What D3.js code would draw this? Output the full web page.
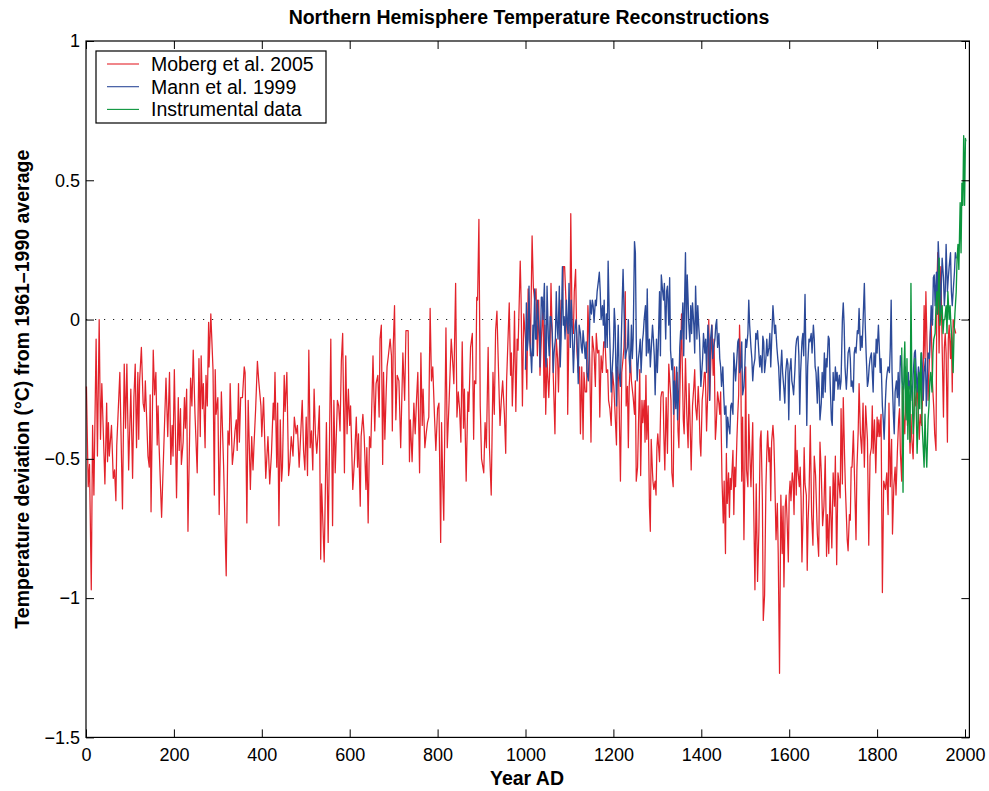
<!DOCTYPE html>
<html>
<head>
<meta charset="utf-8">
<script src="https://cdn.jsdelivr.net/npm/d3@7"></script>
<style>
  body { margin: 0; background: #fff; }
  text { font-family: "Liberation Sans", Arial, Helvetica, sans-serif; fill: #000; }
</style>
</head>
<body>
<svg id="chart" width="989" height="791"></svg>
<script>
// Axis ticks
const xTicks = [0, 200, 400, 600, 800, 1000, 1200, 1400, 1600, 1800, 2000];
const yTicks = [-1.5, -1, -0.5, 0, 0.5, 1];

// Series labels and colours
const seriesNames = ["Moberg et al. 2005", "Mann et al. 1999", "Instrumental data"];
const seriesColors = ["#e3232b", "#2c4a99", "#0b953d"];

// Moberg et al. 2005 reconstruction: [year AD, deviation °C]
const mobergSeries = [
[1,-0.24],[5,-0.60],[8,-0.52],[12,-0.97],[15,-0.38],[18,-0.63],[23,-0.07],[26,-0.49],[30,0.00],[33,-0.43],
[36,-0.23],[43,-0.59],[47,-0.30],[49,-0.51],[51,-0.37],[53,-0.49],[58,-0.38],[62,-0.57],[65,-0.54],[68,-0.65],
[70,-0.45],[77,-0.19],[83,-0.68],[87,-0.16],[90,-0.39],[93,-0.16],[97,-0.54],[102,-0.25],[106,-0.57],[109,-0.28],
[112,-0.16],[115,-0.46],[118,-0.19],[120,-0.43],[122,-0.22],[126,-0.10],[130,-0.30],[133,-0.33],[135,-0.22],[141,-0.49],
[144,-0.53],[146,-0.27],[148,-0.69],[153,-0.11],[156,-0.27],[159,-0.19],[162,-0.45],[164,-0.31],[166,-0.44],[172,-0.71],
[182,-0.21],[186,-0.42],[190,-0.19],[193,-0.52],[196,-0.38],[198,-0.49],[201,-0.18],[206,-0.64],[210,-0.28],[212,-0.47],
[215,-0.32],[217,-0.52],[221,-0.44],[224,-0.28],[226,-0.39],[229,-0.25],[232,-0.76],[238,-0.21],[241,-0.31],[244,-0.11],
[248,-0.34],[253,-0.55],[257,-0.14],[260,-0.42],[262,-0.13],[265,-0.32],[267,-0.23],[271,-0.46],[273,-0.20],[276,-0.31],
[279,-0.01],[280,-0.17],[284,0.02],[289,-0.18],[292,-0.63],[294,-0.18],[296,-0.34],[300,-0.28],[303,-0.70],[308,-0.26],
[313,-0.52],[319,-0.92],[323,-0.40],[326,-0.45],[328,-0.23],[333,-0.52],[336,-0.47],[339,-0.40],[342,-0.36],[344,-0.47],
[347,-0.23],[349,-0.44],[352,-0.28],[356,-0.28],[360,-0.17],[362,-0.19],[366,-0.73],[369,-0.29],[374,-0.61],[377,-0.42],
[380,-0.54],[382,-0.46],[386,-0.32],[390,-0.15],[393,-0.22],[398,-0.31],[400,-0.42],[404,-0.28],[409,-0.57],[414,-0.42],
[418,-0.59],[422,-0.48],[426,-0.30],[428,-0.36],[430,-0.19],[434,-0.53],[436,-0.30],[439,-0.74],[442,-0.36],[445,-0.58],
[447,-0.53],[451,-0.20],[453,-0.33],[457,-0.19],[461,-0.56],[464,-0.51],[467,-0.42],[471,-0.49],[474,-0.35],[478,-0.41],
[481,-0.38],[485,-0.53],[488,-0.43],[492,-0.29],[495,-0.47],[498,-0.54],[501,-0.35],[504,-0.56],[507,-0.11],[510,-0.46],
[513,-0.40],[516,-0.54],[519,-0.25],[522,-0.41],[525,-0.48],[528,-0.41],[531,-0.31],[534,-0.86],[536,-0.59],[542,-0.87],
[547,-0.37],[551,-0.80],[557,-0.07],[561,-0.74],[564,-0.29],[567,-0.55],[572,-0.29],[575,-0.31],[578,-0.40],[581,-0.15],
[584,-0.05],[588,-0.55],[591,-0.13],[594,-0.41],[597,-0.25],[600,-0.38],[602,-0.31],[607,-0.61],[611,-0.50],[615,-0.35],
[618,-0.53],[620,-0.41],[624,-0.67],[626,-0.42],[630,-0.34],[633,-0.42],[637,-0.61],[639,-0.46],[642,-0.73],[645,-0.42],
[648,-0.46],[653,-0.13],[657,-0.40],[660,-0.23],[664,-0.20],[667,-0.35],[669,-0.07],[672,-0.02],[675,-0.52],[677,-0.19],
[680,-0.43],[683,-0.26],[685,-0.17],[688,-0.13],[692,-0.07],[695,-0.13],[697,-0.40],[699,-0.10],[702,0.05],[705,-0.36],
[708,-0.20],[712,-0.22],[716,-0.46],[721,-0.12],[725,-0.29],[728,-0.04],[733,-0.04],[736,-0.51],[738,-0.36],[742,-0.51],
[746,-0.30],[749,-0.41],[752,-0.29],[755,-0.19],[759,-0.55],[762,-0.12],[765,-0.38],[767,-0.25],[771,-0.46],[774,-0.41],
[777,-0.37],[780,-0.35],[783,0.04],[786,-0.22],[789,-0.17],[793,-0.35],[796,-0.47],[800,-0.32],[803,-0.30],[807,-0.80],
[809,-0.37],[812,-0.60],[814,-0.72],[819,-0.03],[822,-0.46],[826,-0.30],[831,-0.07],[835,-0.17],[837,-0.23],[841,0.13],
[844,-0.35],[847,-0.26],[850,-0.32],[853,-0.44],[856,-0.08],[859,-0.39],[861,-0.25],[865,-0.58],[869,-0.26],[871,-0.33],
[875,-0.10],[879,-0.05],[882,-0.43],[884,-0.22],[887,-0.23],[889,0.08],[891,0.07],[894,0.36],[897,-0.31],[900,-0.50],
[905,-0.55],[908,-0.37],[911,-0.46],[915,-0.10],[918,-0.46],[922,-0.63],[926,-0.19],[929,-0.34],[932,-0.04],[935,0.03],
[938,-0.15],[942,-0.38],[945,-0.29],[948,-0.22],[952,-0.34],[955,-0.48],[957,-0.22],[963,0.06],[966,-0.20],[968,-0.12],
[970,-0.31],[973,-0.15],[975,0.03],[978,-0.33],[981,-0.07],[983,-0.11],[988,0.21],[990,0.07],[993,-0.31],[996,0.02],
[1000,-0.07],[1003,-0.25],[1006,0.11],[1009,0.02],[1011,-0.13],[1015,0.30],[1018,0.11],[1021,0.07],[1024,0.11],[1027,-0.13],
[1030,0.07],[1033,-0.20],[1036,-0.07],[1040,0.05],[1042,-0.28],[1044,-0.02],[1046,-0.34],[1049,-0.14],[1053,-0.28],[1055,-0.19],
[1058,0.13],[1061,-0.07],[1063,-0.19],[1067,-0.41],[1070,-0.07],[1073,-0.14],[1075,-0.26],[1078,-0.07],[1081,0.07],[1084,0.05],
[1086,0.19],[1089,0.19],[1092,0.07],[1095,-0.07],[1096,-0.34],[1099,-0.02],[1101,-0.02],[1103,0.38],[1106,-0.02],[1109,-0.05],
[1111,0.10],[1114,0.18],[1117,-0.11],[1120,-0.19],[1123,-0.17],[1125,-0.41],[1128,-0.17],[1131,-0.43],[1133,-0.19],[1136,-0.26],
[1139,-0.26],[1142,0.05],[1146,-0.14],[1149,-0.44],[1152,-0.06],[1156,-0.12],[1159,-0.24],[1161,-0.05],[1164,-0.12],[1167,-0.11],
[1169,-0.35],[1172,-0.13],[1175,-0.19],[1178,-0.08],[1181,-0.08],[1184,-0.19],[1187,-0.18],[1189,-0.29],[1192,-0.32],[1195,-0.38],
[1198,-0.19],[1201,-0.24],[1203,-0.31],[1207,-0.45],[1209,-0.17],[1212,-0.22],[1213,-0.30],[1216,-0.58],[1219,-0.19],[1222,-0.14],
[1224,-0.10],[1227,0.10],[1229,-0.31],[1232,-0.24],[1234,-0.46],[1236,-0.24],[1239,-0.14],[1241,-0.22],[1245,-0.28],[1248,-0.34],
[1250,-0.22],[1252,-0.58],[1255,-0.53],[1257,-0.38],[1260,-0.18],[1262,-0.56],[1265,-0.29],[1267,-0.37],[1270,-0.29],[1272,-0.44],
[1274,-0.20],[1276,-0.43],[1279,-0.31],[1282,-0.67],[1284,-0.76],[1286,-0.43],[1289,-0.55],[1290,-0.58],[1292,-0.61],[1295,-0.58],
[1297,-0.63],[1299,-0.46],[1301,-0.41],[1305,-0.51],[1308,-0.28],[1310,-0.26],[1313,-0.26],[1315,-0.43],[1317,-0.54],[1320,-0.28],
[1323,-0.48],[1326,-0.16],[1329,-0.24],[1331,-0.29],[1333,-0.55],[1336,-0.60],[1339,-0.17],[1342,-0.29],[1345,-0.19],[1347,-0.40],
[1349,-0.46],[1352,-0.20],[1355,0.02],[1357,-0.19],[1359,-0.36],[1361,-0.41],[1364,-0.14],[1367,-0.34],[1370,-0.46],[1372,-0.23],
[1374,-0.34],[1377,-0.54],[1380,-0.31],[1383,-0.24],[1385,-0.18],[1387,-0.31],[1390,-0.36],[1393,-0.24],[1395,-0.31],[1397,-0.44],
[1399,-0.49],[1402,-0.29],[1405,-0.24],[1407,-0.19],[1409,-0.19],[1412,-0.40],[1415,-0.25],[1417,0.00],[1419,-0.29],[1421,-0.19],
[1424,-0.02],[1427,-0.20],[1429,-0.07],[1432,-0.43],[1434,-0.38],[1437,-0.26],[1440,-0.30],[1442,-0.34],[1444,-0.26],[1447,-0.57],
[1450,-0.73],[1452,-0.58],[1455,-0.84],[1457,-0.48],[1459,-0.66],[1462,-0.55],[1464,-0.71],[1466,-0.57],[1468,-0.61],[1472,-0.47],
[1474,-0.70],[1476,-0.53],[1478,-0.60],[1481,-0.43],[1483,-0.34],[1485,-0.27],[1487,-0.02],[1490,-0.20],[1492,-0.58],[1494,-0.35],
[1497,-0.79],[1499,-0.56],[1501,-0.17],[1503,-0.54],[1506,-0.60],[1508,-0.34],[1510,-0.46],[1513,-0.60],[1515,-0.48],[1517,-0.37],
[1519,-0.65],[1522,-0.97],[1525,-0.59],[1528,-0.94],[1531,-0.76],[1534,-0.43],[1536,-0.40],[1539,-0.65],[1541,-1.08],[1544,-0.99],
[1547,-0.60],[1549,-0.48],[1551,-0.40],[1554,-0.51],[1556,-0.46],[1558,-0.65],[1560,-0.44],[1563,-0.38],[1565,-0.43],[1567,-0.55],
[1570,-0.79],[1573,-0.66],[1575,-0.84],[1578,-1.27],[1581,-0.63],[1584,-0.84],[1586,-0.67],[1588,-0.96],[1591,-0.67],[1593,-0.63],
[1595,-0.71],[1598,-0.87],[1600,-0.63],[1602,-0.58],[1604,-0.65],[1607,-0.55],[1609,-0.58],[1611,-0.70],[1614,-0.38],[1616,-0.63],
[1618,-0.47],[1620,-0.54],[1623,-0.60],[1625,-0.53],[1627,-0.64],[1629,-0.87],[1632,-0.67],[1634,-0.46],[1636,-0.59],[1639,-0.63],
[1641,-0.90],[1643,-0.72],[1645,-0.64],[1648,-0.38],[1651,-0.70],[1654,-0.81],[1657,-0.49],[1660,-0.56],[1664,-0.77],[1667,-0.85],
[1670,-0.44],[1673,-0.55],[1676,-0.74],[1679,-0.67],[1682,-0.49],[1685,-0.85],[1687,-0.70],[1690,-0.84],[1693,-0.60],[1697,-0.82],
[1700,-0.55],[1703,-0.67],[1705,-0.49],[1708,-0.88],[1711,-0.55],[1714,-0.60],[1716,-0.64],[1718,-0.32],[1721,-0.59],[1723,-0.28],
[1726,-0.49],[1728,-0.61],[1732,-0.79],[1734,-0.83],[1737,-0.70],[1739,-0.72],[1741,-0.53],[1743,-0.53],[1746,-0.40],[1752,-0.79],
[1754,-0.54],[1757,-0.40],[1759,-0.23],[1762,-0.41],[1765,-0.48],[1768,-0.30],[1771,-0.53],[1774,-0.31],[1778,-0.43],[1781,-0.81],
[1784,-0.49],[1787,-0.46],[1789,-0.31],[1791,-0.48],[1794,-0.36],[1797,-0.55],[1800,-0.35],[1802,-0.42],[1804,-0.36],[1806,-0.42],
[1809,-0.34],[1812,-0.98],[1815,-0.58],[1819,-0.61],[1822,-0.55],[1825,-0.70],[1827,-0.30],[1830,-0.60],[1833,-0.43],[1835,-0.77],
[1838,-0.60],[1841,-0.53],[1843,-0.63],[1846,-0.48],[1849,-0.36],[1851,-0.32],[1853,-0.48],[1856,-0.58],[1858,-0.24],[1860,-0.34],
[1863,-0.41],[1866,-0.22],[1869,-0.38],[1872,-0.31],[1875,-0.48],[1877,-0.34],[1879,-0.43],[1882,-0.50],[1885,-0.26],[1888,-0.31],
[1891,-0.24],[1893,-0.31],[1896,-0.43],[1898,-0.34],[1901,-0.38],[1904,-0.26],[1907,0.05],[1909,-0.14],[1911,0.10],[1914,-0.12],
[1916,-0.29],[1919,-0.14],[1921,-0.05],[1923,0.00],[1926,-0.23],[1929,-0.32],[1931,-0.41],[1934,-0.47],[1936,0.12],[1938,0.24],
[1941,-0.12],[1943,0.05],[1945,0.19],[1948,-0.10],[1951,-0.35],[1953,-0.10],[1955,-0.05],[1957,-0.12],[1960,-0.44],[1962,-0.07],
[1964,-0.02],[1967,-0.14],[1969,-0.05],[1971,-0.26],[1973,0.00],[1976,-0.03],[1979,-0.05]
];

// Mann et al. 1999 reconstruction: [year AD, deviation °C]
const mannSeries = [
[1000,-0.18],[1002,0.06],[1004,-0.11],[1006,-0.07],[1008,0.12],[1010,-0.08],[1012,-0.12],[1014,-0.19],[1017,-0.02],[1018,-0.13],
[1021,0.11],[1023,-0.07],[1025,-0.07],[1027,0.07],[1030,-0.02],[1032,-0.06],[1033,-0.17],[1036,0.08],[1038,0.08],[1040,0.00],
[1043,0.13],[1045,-0.13],[1047,-0.17],[1049,0.12],[1052,-0.07],[1054,-0.13],[1056,0.01],[1058,0.01],[1061,-0.05],[1063,-0.19],
[1065,-0.12],[1068,-0.07],[1070,0.10],[1072,-0.02],[1074,-0.07],[1077,0.12],[1079,-0.17],[1081,-0.07],[1084,0.19],[1086,-0.02],
[1088,0.01],[1090,-0.07],[1093,0.07],[1095,-0.02],[1097,-0.05],[1099,0.13],[1102,-0.10],[1104,0.07],[1106,-0.02],[1109,-0.19],
[1111,-0.10],[1113,-0.02],[1115,0.00],[1118,-0.10],[1120,-0.23],[1122,-0.02],[1125,-0.05],[1127,-0.10],[1129,-0.12],[1131,-0.04],
[1134,-0.10],[1136,-0.14],[1138,-0.08],[1140,-0.19],[1143,-0.22],[1145,-0.11],[1147,0.07],[1150,0.02],[1152,0.07],[1154,0.05],
[1156,-0.01],[1159,0.07],[1161,0.05],[1163,0.10],[1166,0.14],[1168,0.17],[1170,0.10],[1172,0.00],[1175,0.05],[1177,-0.02],
[1179,0.07],[1181,-0.10],[1184,0.02],[1186,-0.10],[1188,0.21],[1191,-0.02],[1193,-0.14],[1195,-0.26],[1197,-0.19],[1200,-0.10],
[1202,0.04],[1204,-0.02],[1207,-0.31],[1209,-0.14],[1211,-0.02],[1213,-0.19],[1216,-0.24],[1218,-0.07],[1220,0.06],[1222,0.18],
[1225,-0.02],[1227,-0.14],[1229,-0.12],[1232,-0.10],[1234,0.00],[1236,-0.14],[1238,-0.19],[1241,-0.02],[1243,-0.14],[1245,-0.07],
[1248,0.28],[1250,0.24],[1252,-0.07],[1254,-0.22],[1257,-0.14],[1259,-0.11],[1261,-0.07],[1263,-0.19],[1266,-0.08],[1268,-0.05],
[1270,0.00],[1273,0.05],[1275,-0.13],[1277,0.11],[1279,-0.12],[1282,-0.07],[1284,-0.17],[1286,-0.11],[1289,-0.02],[1291,-0.07],
[1293,-0.13],[1295,-0.27],[1298,-0.07],[1300,-0.19],[1302,-0.10],[1305,0.10],[1307,-0.13],[1309,0.16],[1311,0.12],[1314,0.07],
[1316,0.13],[1319,-0.07],[1321,0.10],[1323,0.12],[1326,-0.02],[1328,0.15],[1330,-0.11],[1333,-0.18],[1335,-0.14],[1337,-0.34],
[1339,-0.22],[1342,-0.32],[1344,-0.17],[1346,-0.36],[1349,-0.24],[1351,-0.10],[1353,-0.04],[1355,-0.07],[1358,0.06],[1360,-0.13],
[1362,0.07],[1364,0.24],[1366,-0.07],[1368,0.16],[1370,0.07],[1371,0.00],[1374,-0.08],[1376,0.05],[1378,-0.05],[1380,0.06],
[1383,-0.02],[1385,-0.12],[1387,0.12],[1390,-0.07],[1392,0.05],[1394,-0.02],[1396,-0.07],[1399,-0.24],[1401,-0.19],[1403,-0.14],
[1405,-0.05],[1408,-0.12],[1410,-0.07],[1412,-0.19],[1415,-0.02],[1417,-0.07],[1419,-0.29],[1421,-0.07],[1424,-0.02],[1426,-0.14],
[1428,-0.10],[1431,-0.07],[1433,-0.02],[1435,0.00],[1437,-0.10],[1440,-0.05],[1442,-0.14],[1444,-0.17],[1446,-0.24],[1449,-0.17],
[1451,-0.27],[1453,-0.34],[1456,-0.31],[1458,-0.46],[1460,-0.35],[1462,-0.38],[1465,-0.41],[1467,-0.31],[1469,-0.30],[1472,-0.34],
[1474,-0.12],[1476,-0.17],[1478,-0.22],[1481,-0.14],[1483,-0.08],[1485,-0.07],[1487,-0.19],[1490,-0.17],[1492,-0.08],[1494,-0.27],
[1497,-0.24],[1499,-0.17],[1501,-0.07],[1503,-0.10],[1506,-0.05],[1508,0.07],[1510,-0.02],[1513,-0.10],[1515,-0.14],[1517,-0.22],
[1519,-0.17],[1522,-0.14],[1524,-0.05],[1526,-0.07],[1528,-0.04],[1531,-0.12],[1533,-0.17],[1535,-0.13],[1538,-0.19],[1540,-0.06],
[1542,-0.08],[1544,-0.19],[1547,-0.14],[1549,-0.07],[1551,-0.13],[1554,-0.10],[1556,-0.05],[1558,-0.17],[1560,-0.08],[1563,0.05],
[1565,0.00],[1567,-0.05],[1569,-0.02],[1572,-0.10],[1574,-0.14],[1576,-0.17],[1579,-0.29],[1581,-0.17],[1583,-0.11],[1585,-0.19],
[1588,-0.25],[1590,-0.30],[1592,-0.19],[1595,-0.14],[1597,-0.16],[1599,-0.36],[1601,-0.19],[1604,-0.14],[1606,-0.22],[1608,-0.24],
[1610,-0.27],[1613,-0.18],[1615,-0.10],[1617,-0.07],[1620,-0.06],[1622,-0.13],[1624,-0.34],[1626,-0.19],[1629,-0.08],[1631,-0.05],
[1633,-0.13],[1636,0.09],[1638,-0.14],[1640,-0.38],[1642,-0.17],[1645,-0.07],[1647,-0.08],[1650,-0.05],[1652,-0.12],[1655,-0.02],
[1657,-0.07],[1659,-0.17],[1661,-0.19],[1664,-0.30],[1666,-0.17],[1668,-0.24],[1670,-0.36],[1673,-0.30],[1675,-0.19],[1677,-0.28],
[1680,-0.12],[1682,-0.26],[1684,-0.14],[1686,-0.17],[1689,-0.06],[1691,-0.07],[1693,-0.22],[1696,-0.36],[1698,-0.38],[1700,-0.19],
[1702,-0.29],[1705,-0.17],[1707,-0.22],[1709,-0.19],[1711,-0.25],[1714,-0.20],[1716,-0.25],[1718,-0.22],[1721,0.00],[1723,0.06],
[1725,-0.02],[1727,-0.17],[1730,-0.25],[1732,-0.19],[1734,-0.12],[1737,-0.10],[1739,-0.14],[1741,-0.24],[1743,-0.22],[1746,-0.26],
[1748,-0.12],[1750,-0.10],[1752,-0.12],[1755,-0.04],[1757,-0.05],[1759,0.04],[1762,-0.11],[1764,-0.06],[1766,-0.10],[1768,-0.01],
[1771,0.13],[1773,-0.02],[1775,-0.12],[1778,-0.24],[1780,-0.22],[1782,-0.17],[1784,-0.14],[1787,-0.12],[1789,-0.19],[1791,-0.26],
[1793,-0.12],[1796,-0.17],[1798,-0.07],[1800,-0.12],[1803,-0.02],[1805,-0.10],[1807,-0.19],[1809,-0.14],[1812,-0.31],[1814,-0.36],
[1816,-0.43],[1819,-0.29],[1821,-0.22],[1823,-0.19],[1825,-0.17],[1828,-0.19],[1830,-0.10],[1832,0.07],[1834,-0.19],[1837,-0.34],
[1839,-0.41],[1841,-0.26],[1844,-0.22],[1846,-0.28],[1848,-0.19],[1850,-0.31],[1853,-0.13],[1855,-0.14],[1857,-0.22],[1860,-0.25],
[1862,-0.22],[1864,-0.17],[1866,-0.24],[1869,-0.31],[1871,-0.19],[1873,-0.25],[1875,-0.22],[1878,-0.24],[1880,-0.29],[1882,-0.20],
[1885,-0.12],[1887,-0.11],[1889,-0.19],[1891,-0.26],[1894,-0.17],[1896,-0.24],[1898,-0.19],[1901,-0.12],[1903,-0.17],[1905,-0.29],
[1907,-0.19],[1910,-0.14],[1912,-0.31],[1914,-0.22],[1916,-0.12],[1919,-0.14],[1921,-0.05],[1923,0.05],[1926,-0.02],[1928,0.15],
[1930,0.16],[1932,0.05],[1935,0.17],[1937,0.02],[1939,0.28],[1942,0.17],[1944,0.00],[1946,0.12],[1948,0.22],[1951,0.15],
[1953,0.05],[1955,0.10],[1957,0.27],[1960,0.10],[1962,0.15],[1964,0.19],[1967,0.24],[1969,0.10],[1971,0.05],[1973,0.10],
[1976,0.17],[1978,0.24],[1980,0.22]
];

// Instrumental record: [year AD, deviation °C]
const instrumentalSeries = [
[1856,-0.10],[1859,-0.62],[1861,-0.19],[1863,-0.08],[1866,-0.36],[1868,-0.14],[1870,-0.43],[1872,-0.24],[1875,-0.44],[1877,0.13],
[1879,-0.22],[1882,-0.41],[1884,-0.34],[1886,-0.14],[1888,-0.24],[1891,-0.48],[1893,-0.38],[1895,-0.19],[1897,-0.32],[1900,-0.12],
[1902,-0.36],[1904,-0.43],[1907,-0.53],[1909,-0.34],[1911,-0.46],[1913,-0.53],[1916,-0.36],[1918,-0.31],[1920,-0.22],[1922,-0.19],
[1925,-0.26],[1927,-0.12],[1929,-0.07],[1932,-0.05],[1934,0.05],[1936,0.10],[1938,0.02],[1941,0.22],[1943,-0.02],[1945,0.02],
[1948,0.05],[1950,-0.05],[1952,0.00],[1954,0.00],[1957,0.05],[1959,-0.05],[1961,0.10],[1964,0.00],[1966,0.05],[1968,-0.02],
[1970,-0.07],[1973,-0.19],[1975,-0.05],[1977,0.02],[1980,0.10],[1982,0.22],[1984,0.27],[1986,0.18],[1989,0.42],[1991,0.24],
[1993,0.49],[1995,0.41],[1997,0.66],[1999,0.41],[2001,0.65],[2002,0.64]
];

const svg = d3.select("#chart");
const plot = { left: 86, right: 969.4, top: 41, bottom: 737.4 };

const x = d3.scaleLinear().domain([0, 2010]).range([plot.left, plot.right]);
const y = d3.scaleLinear().domain([-1.5, 1]).range([plot.bottom, plot.top]);
const fmt = d3.format("~g");
const tickFont = 18;
const legendFont = 19.5;
const titleFont = 19.5;

// Zero reference line
svg.append("line")
  .attr("x1", x(0)).attr("x2", x(2010))
  .attr("y1", y(0)).attr("y2", y(0))
  .attr("stroke", "#222").attr("stroke-width", 1.1)
  .attr("stroke-dasharray", "1.2,7.8");

// Series lines
const line = d3.line().x(d => x(d[0])).y(d => y(d[1]));
const allSeries = [mobergSeries, mannSeries, instrumentalSeries];
const widths = [1.25, 1.35, 1.35];
allSeries.forEach((s, i) => {
  svg.append("path")
    .datum(s)
    .attr("d", line)
    .attr("fill", "none")
    .attr("stroke", seriesColors[i])
    .attr("stroke-width", widths[i])
    .attr("stroke-linejoin", "round");
});

// Axes with inward ticks on all four sides
function styleAxis(g) {
  g.select(".domain").remove();
  g.selectAll(".tick line").attr("stroke", "#000").attr("stroke-width", 1);
  g.selectAll(".tick text")
    .style("font-size", tickFont + "px")
    .style("font-family", "'Liberation Sans', Arial, sans-serif")
    .attr("fill", "#000");
}

svg.append("g")
  .attr("transform", `translate(0,${plot.bottom})`)
  .call(d3.axisBottom(x).tickValues(xTicks).tickFormat(fmt).tickSizeInner(-8).tickSizeOuter(0).tickPadding(11))
  .call(styleAxis);

svg.append("g")
  .attr("transform", `translate(0,${plot.top})`)
  .call(d3.axisTop(x).tickValues(xTicks).tickFormat("").tickSizeInner(-8).tickSizeOuter(0))
  .call(styleAxis);

svg.append("g")
  .attr("transform", `translate(${plot.left},0)`)
  .call(d3.axisLeft(y).tickValues(yTicks).tickFormat(fmt).tickSizeInner(-8).tickSizeOuter(0).tickPadding(6))
  .call(styleAxis);

svg.append("g")
  .attr("transform", `translate(${plot.right},0)`)
  .call(d3.axisRight(y).tickValues(yTicks).tickFormat("").tickSizeInner(-8).tickSizeOuter(0))
  .call(styleAxis);

// Plot frame
svg.append("rect")
  .attr("x", plot.left).attr("y", plot.top)
  .attr("width", plot.right - plot.left).attr("height", plot.bottom - plot.top)
  .attr("fill", "none").attr("stroke", "#000").attr("stroke-width", 1.2);

// Title and axis titles
svg.append("text")
  .attr("x", 529).attr("y", 24)
  .attr("text-anchor", "middle")
  .style("font-size", titleFont + "px").style("font-weight", "bold")
  .text("Northern Hemisphere Temperature Reconstructions");

svg.append("text")
  .attr("x", 527).attr("y", 785)
  .attr("text-anchor", "middle")
  .style("font-size", titleFont + "px").style("font-weight", "bold")
  .text("Year AD");

svg.append("text")
  .attr("transform", `translate(29,${(plot.top + plot.bottom) / 2}) rotate(-90)`)
  .attr("text-anchor", "middle")
  .style("font-size", titleFont + "px").style("font-weight", "bold")
  .text("Temperature deviation (°C) from 1961–1990 average");

// Legend
const legend = svg.append("g").attr("transform", "translate(96,51)");
legend.append("rect")
  .attr("width", 230).attr("height", 72)
  .attr("fill", "#fff").attr("stroke", "#000").attr("stroke-width", 1.2);
seriesNames.forEach((name, i) => {
  const cy = 13 + i * 22.7;
  legend.append("line")
    .attr("x1", 11).attr("x2", 43).attr("y1", cy).attr("y2", cy)
    .attr("stroke", seriesColors[i]).attr("stroke-width", 1.1);
  legend.append("text")
    .attr("x", 55).attr("y", cy).attr("dy", "0.35em")
    .style("font-size", legendFont + "px")
    .text(name);
});
</script>
</body>
</html>
